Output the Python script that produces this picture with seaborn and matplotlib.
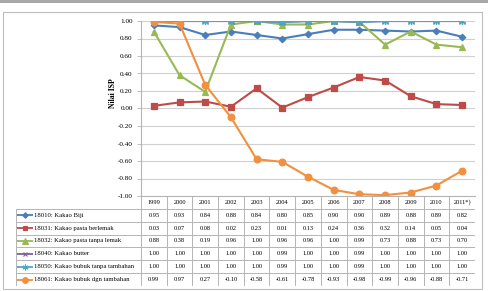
import matplotlib
matplotlib.use("Agg")
from matplotlib import pyplot as plt
from matplotlib.ticker import FormatStrFormatter, MultipleLocator
import pandas as pd
import seaborn as sns

years = ["1999", "2000", "2001", "2002", "2003", "2004", "2005", "2006",
         "2007", "2008", "2009", "2010", "2011*)"]
names = ["18010: Kakao Biji",
         "18031: Kakao pasta berlemak",
         "18032: Kakao pasta tanpa lemak",
         "18040: Kakao butter",
         "18050: Kakao bubuk tanpa tambahan",
         "18061: Kakao bubuk dgn tambahan"]

kakao_biji = [0.95, 0.93, 0.84, 0.88, 0.84, 0.80, 0.85, 0.90, 0.90, 0.89, 0.88, 0.89, 0.82]
pasta_berlemak = [0.03, 0.07, 0.08, 0.02, 0.23, 0.01, 0.13, 0.24, 0.36, 0.32, 0.14, 0.05, 0.04]
pasta_tanpa_lemak = [0.88, 0.38, 0.19, 0.96, 1.00, 0.96, 0.96, 1.00, 0.99, 0.73, 0.88, 0.73, 0.70]
kakao_butter = [1.00, 1.00, 1.00, 1.00, 1.00, 0.99, 1.00, 1.00, 0.99, 1.00, 1.00, 1.00, 1.00]
bubuk_tanpa = [1.00, 1.00, 1.00, 1.00, 1.00, 0.99, 1.00, 1.00, 0.99, 1.00, 1.00, 1.00, 1.00]
bubuk_dgn = [0.99, 0.97, 0.27, -0.10, -0.58, -0.61, -0.78, -0.93, -0.98, -0.99, -0.96, -0.88, -0.71]

series = [kakao_biji, pasta_berlemak, pasta_tanpa_lemak, kakao_butter, bubuk_tanpa, bubuk_dgn]
colors = ["#4A7EBB", "#BE4B48", "#98B954", "#7D60A0", "#46AAC5", "#F38F3D"]
markers = ["D", "s", "^", "x", (6, 2, 0), "o"]
msizes = [3.3, 4.0, 4.5, 4.0, 5.0, 4.8]

rows = []
for name, vals in zip(names, series):
    for i, v in enumerate(vals):
        rows.append({"pos": i, "value": v, "seri": name})
df = pd.DataFrame(rows)

W, H = 489, 291
fig = plt.figure(figsize=(W / 100, H / 100), dpi=100)
serif = ["Liberation Serif", "DejaVu Serif"]
grid_c = "#D0D0D0"
line_c = "#B4B4B4"

def fx(px):
    return px / W

def fy(py):
    return 1 - py / H

# outer decorations
fig.add_artist(plt.Rectangle((0, fy(2.5)), 1, 2.5 / H, transform=fig.transFigure,
                             color="#A8A8A8", lw=0))
fig.add_artist(plt.Rectangle((fx(3), fy(289)), fx(479), (289 - 12) / H, transform=fig.transFigure,
                             fill=False, ec="#BDBDBD", lw=0.8))

# plot area
px_l, px_r, py_t, py_b = 141, 475, 21, 196
ax = fig.add_axes([fx(px_l), fy(py_b), fx(px_r - px_l), (py_b - py_t) / H])
sns.lineplot(data=df, x="pos", y="value", hue="seri",
             palette=dict(zip(names, colors)), hue_order=names,
             linewidth=1.5, legend=False, ax=ax)
# excel style markers per series (seaborn can't mix filled and line markers)
for ln, c, mk, ms in zip(ax.lines, colors, markers, msizes):
    ln.set_marker(mk)
    ln.set_markeredgecolor(c)
    ln.set_markerfacecolor(c)
    ln.set_markersize(ms)
    ln.set_markeredgewidth(0.9)

ax.set_xlim(-0.5, len(years) - 0.5)
ax.set_ylim(-1.0, 1.0)
ax.yaxis.set_major_locator(MultipleLocator(0.2))
ax.yaxis.set_major_formatter(FormatStrFormatter("%.2f"))
ax.set_xticks([])
ax.set_xlabel("")
ax.set_ylabel("")
ax.grid(axis="y", color=grid_c, lw=0.8)
ax.set_axisbelow(True)
for side in ["top", "right"]:
    ax.spines[side].set_visible(False)
for side in ["left", "bottom"]:
    ax.spines[side].set_color(line_c)
    ax.spines[side].set_linewidth(0.8)
ax.tick_params(axis="y", length=3, width=0.6, color=line_c, pad=3, labelsize=5.2)
for t in ax.get_yticklabels():
    t.set_fontfamily(serif)
fig.text(fx(113), fy(93), "Nilai ISP", rotation=90, ha="center", va="center",
         fontsize=5.6, fontweight="bold", family=serif)

# data table
tb_l, tb_b = 16, 286
unit = (px_r - px_l) / len(years)
leg_w = (px_l - tb_l) / unit
tax = fig.add_axes([fx(tb_l), fy(tb_b), fx(px_r - tb_l), (tb_b - py_b) / H])
x0 = -0.5 - leg_w
tax.set_xlim(x0, len(years) - 0.5)
tax.set_ylim(len(names) + 1, 0)
tax.axis("off")

nrow = len(names) + 1
for r in range(1, nrow + 1):
    tax.plot([x0, len(years) - 0.5], [r, r], color=line_c, lw=0.7, solid_capstyle="butt")
tax.plot([x0, x0], [1, nrow], color=line_c, lw=0.7)
for c in range(len(years) + 1):
    tax.plot([c - 0.5, c - 0.5], [0, nrow], color=line_c, lw=0.7)

for c, yr in enumerate(years):
    tax.text(c, 0.5, yr, ha="center", va="center", fontsize=4.6, family=serif)

for r, (name, vals, col, mk, ms) in enumerate(zip(names, series, colors, markers, msizes)):
    yc = r + 1.5
    tax.plot([x0 + 0.05, x0 + 0.68], [yc, yc], color=col, lw=1.3, solid_capstyle="butt")
    tax.plot([x0 + 0.36], [yc], marker=mk, color=col, ms=ms * 0.85, mec=col, mew=0.8)
    tax.text(x0 + 0.72, yc, name, ha="left", va="center", fontsize=4.8, family=serif)
    for c, v in enumerate(vals):
        tax.text(c, yc, f"{v:.2f}", ha="center", va="center", fontsize=4.6, family=serif)

fig.savefig("out.png", dpi=100)
plt.close(fig)
